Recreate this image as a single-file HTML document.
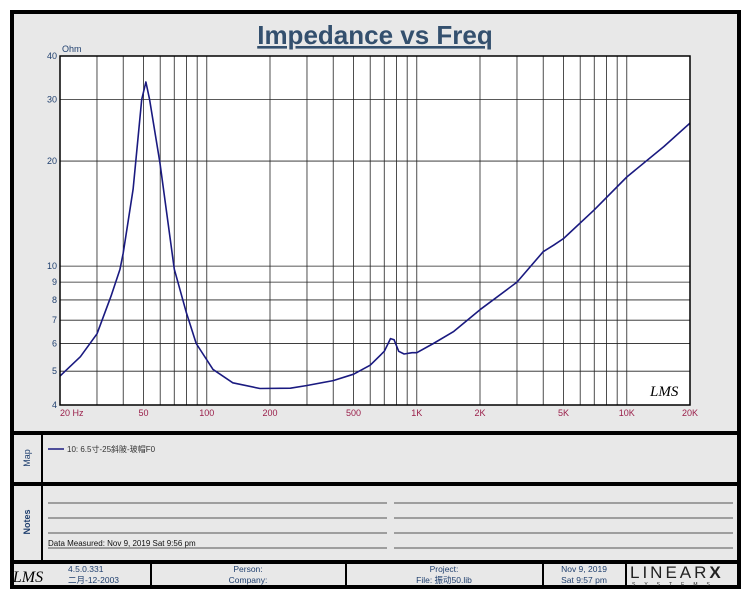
<!DOCTYPE html>
<html><head><meta charset="utf-8"><style>
body{margin:0;background:#fff;}
svg{display:block;font-family:"Liberation Sans","Noto Sans CJK SC",sans-serif;}
</style></head><body>
<svg width="750" height="600" viewBox="0 0 750 600">
<rect x="0" y="0" width="750" height="600" fill="#fff"/>
<rect x="12" y="12" width="727" height="575" fill="#e8e8e8" stroke="#000" stroke-width="4"/>
<text x="375" y="44" text-anchor="middle" font-size="26" font-weight="bold" fill="#34506e" text-decoration="underline">Impedance vs Freq</text>
<text x="62" y="52" font-size="9" fill="#1f3f6e">Ohm</text>
<rect x="60" y="56" width="630" height="349" fill="#fff"/>
<g id="grid"></g>
<path id="curve" fill="none" stroke="#1a1a80" stroke-width="1.6" stroke-linejoin="round"/>
<rect x="60" y="56" width="630" height="349" fill="none" stroke="#000" stroke-width="1.5"/>
<g id="labels"></g>
<text x="650" y="396" font-size="15" font-style="italic" font-family="Liberation Serif,serif" fill="#000">LMS</text>
<line x1="12" y1="433" x2="739" y2="433" stroke="#000" stroke-width="4"/>
<line x1="12" y1="484" x2="739" y2="484" stroke="#000" stroke-width="4"/>
<line x1="12" y1="562" x2="739" y2="562" stroke="#000" stroke-width="4"/>
<line x1="42" y1="433" x2="42" y2="562" stroke="#000" stroke-width="2"/>
<text transform="translate(30,458) rotate(-90)" text-anchor="middle" font-size="9" fill="#1f3f6e">Map</text>
<text transform="translate(30,522) rotate(-90)" text-anchor="middle" font-size="9" font-weight="bold" fill="#1f3f6e">Notes</text>
<g>
<line x1="48" y1="449" x2="64" y2="449" stroke="#1a1a80" stroke-width="1.5"/>
<text x="67" y="452" font-size="8" fill="#333">10: 6.5寸-25斜陂-玻帽F0</text>
</g>
<g stroke="#555" stroke-width="1">
<line x1="48" y1="503" x2="387" y2="503"/><line x1="394" y1="503" x2="733" y2="503"/>
<line x1="48" y1="518" x2="387" y2="518"/><line x1="394" y1="518" x2="733" y2="518"/>
<line x1="48" y1="533" x2="387" y2="533"/><line x1="394" y1="533" x2="733" y2="533"/>
<line x1="48" y1="548" x2="387" y2="548"/><line x1="394" y1="548" x2="733" y2="548"/>
</g>
<text x="48" y="546" font-size="8" fill="#111">Data Measured: Nov  9, 2019  Sat  9:56 pm</text>
<g stroke="#000" stroke-width="2">
<line x1="151" y1="562" x2="151" y2="587"/><line x1="346" y1="562" x2="346" y2="587"/>
<line x1="543" y1="562" x2="543" y2="587"/><line x1="626" y1="562" x2="626" y2="587"/>
</g>
<g font-size="8.5" fill="#1f3f6e" text-anchor="middle">
<text x="28" y="582" font-size="16" font-style="italic" font-family="Liberation Serif,serif" fill="#000">LMS</text>
<text x="68" y="572" text-anchor="start">4.5.0.331</text>
<text x="68" y="583" text-anchor="start">二月-12-2003</text>
<text x="248" y="572">Person:</text>
<text x="248" y="583">Company:</text>
<text x="444" y="572">Project:</text>
<text x="444" y="583">File: 振动50.lib</text>
<text x="584" y="572">Nov  9, 2019</text>
<text x="584" y="583">Sat  9:57 pm</text>
</g>
<g>
<text x="630" y="578" font-size="17" letter-spacing="3" fill="#222" font-family="Liberation Sans,sans-serif">LINEAR<tspan font-weight="bold">X</tspan></text>
<text x="632" y="586" font-size="5" letter-spacing="9" fill="#222">SYSTEMS</text>
</g>
</svg>
<script>
const freqs=[20,25,30,35,38.6,40,44.6,49,51.3,53.4,59.8,70,80,89,107,133,179,250,300,400,500,600,700,750,780,820,870,950,1000,1200,1500,2000,3000,4000,4500,5000,7000,10000,15000,20000];
const ohms=[4.84,5.5,6.4,8.2,9.8,10.9,16.6,30,33.7,30,19.8,9.8,7.35,6.0,5.06,4.63,4.46,4.47,4.55,4.7,4.9,5.2,5.7,6.2,6.15,5.7,5.6,5.65,5.65,6.0,6.5,7.5,9.0,11,11.5,12,14.5,18,22,25.7];
const xTicks=[20,50,100,200,500,1000,2000,5000,10000,20000];
const xTickLabels=["20  Hz","50","100","200","500","1K","2K","5K","10K","20K"];
const yTicks=[4,5,6,7,8,9,10,20,30,40];
const yTickLabels=["4","5","6","7","8","9","10","20","30","40"];
const X0=60,X1=690,Y0=405,Y1=56;
function xs(f){return X0+(X1-X0)*Math.log10(f/20)/3;}
function ys(v){return Y0-(Y0-Y1)*Math.log10(v/4);}
const NS="http://www.w3.org/2000/svg";
const grid=document.getElementById('grid'),labels=document.getElementById('labels');
for(let d=10;d<=10000;d*=10){for(let m=1;m<10;m++){const f=d*m;if(f<=20||f>=20000)continue;
const l=document.createElementNS(NS,'line');


l.setAttribute('x1',xs(f));l.setAttribute('x2',xs(f));l.setAttribute('y1',Y1);l.setAttribute('y2',Y0);
l.setAttribute('stroke','#222');l.setAttribute('stroke-width','0.8');grid.appendChild(l);}}
yTicks.forEach(v=>{if(v===4||v===40)return;
const l=document.createElementNS(NS,'line');


l.setAttribute('x1',X0);l.setAttribute('x2',X1);l.setAttribute('y1',ys(v));l.setAttribute('y2',ys(v));
l.setAttribute('stroke','#222');l.setAttribute('stroke-width','0.8');grid.appendChild(l);});
yTicks.forEach((v,i)=>{const t=document.createElementNS(NS,'text');


t.setAttribute('x',57);t.setAttribute('y',ys(v)+3);t.setAttribute('text-anchor','end');
t.setAttribute('font-size','9');t.setAttribute('fill','#1f3f6e');t.textContent=yTickLabels[i];labels.appendChild(t);});
xTicks.forEach((f,i)=>{const t=document.createElementNS(NS,'text');


t.setAttribute('x',i===0?X0:xs(f));t.setAttribute('y',416);t.setAttribute('text-anchor',i===0?'start':'middle');
t.setAttribute('font-size','9');t.setAttribute('fill','#9a1f4a');t.setAttribute('xml:space','preserve');t.textContent=xTickLabels[i];labels.appendChild(t);});
let d='';freqs.forEach((f,i)=>{d+=(i?'L':'M')+xs(f).toFixed(1)+','+ys(ohms[i]).toFixed(1);});
document.getElementById('curve').setAttribute('d',d);
</script>
</body></html>
